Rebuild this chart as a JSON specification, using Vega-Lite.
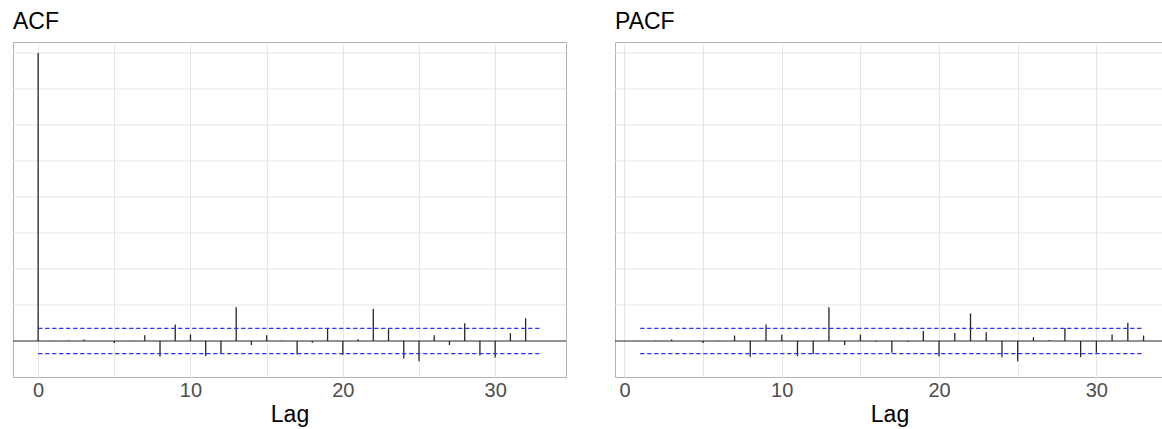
{
  "$schema": "https://vega.github.io/schema/vega-lite/v6.json",
  "padding": {"left": 11, "top": 10, "right": 0, "bottom": 0},
  "spacing": 45,
  "datasets": {
    "acf": [
      {"lag": 0, "value": 1.0},
      {"lag": 1, "value": 0.001},
      {"lag": 2, "value": 0.002},
      {"lag": 3, "value": 0.005},
      {"lag": 4, "value": 0.0},
      {"lag": 5, "value": -0.007},
      {"lag": 6, "value": 0.001},
      {"lag": 7, "value": 0.020},
      {"lag": 8, "value": -0.054},
      {"lag": 9, "value": 0.057},
      {"lag": 10, "value": 0.023},
      {"lag": 11, "value": -0.052},
      {"lag": 12, "value": -0.043},
      {"lag": 13, "value": 0.117},
      {"lag": 14, "value": -0.014},
      {"lag": 15, "value": 0.020},
      {"lag": 16, "value": 0.002},
      {"lag": 17, "value": -0.047},
      {"lag": 18, "value": -0.006},
      {"lag": 19, "value": 0.043},
      {"lag": 20, "value": -0.048},
      {"lag": 21, "value": 0.006},
      {"lag": 22, "value": 0.111},
      {"lag": 23, "value": 0.041},
      {"lag": 24, "value": -0.061},
      {"lag": 25, "value": -0.070},
      {"lag": 26, "value": 0.020},
      {"lag": 27, "value": -0.014},
      {"lag": 28, "value": 0.062},
      {"lag": 29, "value": -0.050},
      {"lag": 30, "value": -0.057},
      {"lag": 31, "value": 0.027},
      {"lag": 32, "value": 0.079},
      {"lag": 33, "value": 0.0}
    ],
    "pacf": [
      {"lag": 1, "value": 0.001},
      {"lag": 2, "value": 0.002},
      {"lag": 3, "value": 0.005},
      {"lag": 4, "value": 0.0},
      {"lag": 5, "value": -0.007},
      {"lag": 6, "value": 0.001},
      {"lag": 7, "value": 0.019},
      {"lag": 8, "value": -0.055},
      {"lag": 9, "value": 0.057},
      {"lag": 10, "value": 0.022},
      {"lag": 11, "value": -0.053},
      {"lag": 12, "value": -0.045},
      {"lag": 13, "value": 0.117},
      {"lag": 14, "value": -0.014},
      {"lag": 15, "value": 0.022},
      {"lag": 16, "value": -0.003},
      {"lag": 17, "value": -0.041},
      {"lag": 18, "value": -0.003},
      {"lag": 19, "value": 0.035},
      {"lag": 20, "value": -0.054},
      {"lag": 21, "value": 0.028},
      {"lag": 22, "value": 0.096},
      {"lag": 23, "value": 0.030},
      {"lag": 24, "value": -0.056},
      {"lag": 25, "value": -0.070},
      {"lag": 26, "value": 0.013},
      {"lag": 27, "value": 0.003},
      {"lag": 28, "value": 0.045},
      {"lag": 29, "value": -0.056},
      {"lag": 30, "value": -0.041},
      {"lag": 31, "value": 0.023},
      {"lag": 32, "value": 0.063},
      {"lag": 33, "value": 0.019}
    ],
    "ci": [
      {"panel": "ACF", "from": 0, "to": 33, "ci": 0.0435},
      {"panel": "ACF", "from": 0, "to": 33, "ci": -0.0435},
      {"panel": "PACF", "from": 1, "to": 33, "ci": 0.0435},
      {"panel": "PACF", "from": 1, "to": 33, "ci": -0.0435}
    ],
    "ybreaks": [
      {"level": 0.125}, {"level": 0.25}, {"level": 0.375}, {"level": 0.5},
      {"level": 0.625}, {"level": 0.75}, {"level": 0.875}, {"level": 1.0}
    ],
    "zero": [{"level": 0}]
  },
  "hconcat": [
    {
      "width": 553,
      "height": 335,
      "title": {"text": "ACF"},
      "layer": [
        {
          "data": {"name": "ybreaks"},
          "mark": {"type": "rule", "color": "#e6e6e6", "strokeWidth": 1},
          "encoding": {"y": {"field": "level", "type": "quantitative",
                  "scale": {"domain": [-0.125, 1.03819], "nice": false, "zero": false},
                  "axis": null}}
        },
        {
          "data": {"name": "zero"},
          "mark": {"type": "rule", "color": "#262626", "strokeWidth": 1.2},
          "encoding": {"y": {"field": "level", "type": "quantitative"}}
        },
        {
          "data": {"name": "acf"},
          "mark": {"type": "rule", "color": "#262626", "strokeWidth": 1.3},
          "encoding": {
            "x": {"field": "lag", "type": "quantitative",
                  "scale": {"domain": [-1.65, 34.65], "nice": false, "zero": false},
                  "axis": {"values": [0, 5, 10, 15, 20, 25, 30], "labelExpr": "datum.value % 10 === 0 ? datum.label : ''", "title": "Lag"}},
            "y": {"field": "value", "type": "quantitative"},
            "y2": {"datum": 0}
          }
        },
        {
          "data": {"name": "ci"},
          "transform": [{"filter": "datum.panel === 'ACF'"}],
          "mark": {"type": "rule", "color": "#2f2fff", "strokeWidth": 1.3, "strokeDash": [4.3, 2.7]},
          "encoding": {
            "x": {"field": "from", "type": "quantitative"},
            "x2": {"field": "to"},
            "y": {"field": "ci", "type": "quantitative"}
          }
        }
      ]
    },
    {
      "width": 549,
      "height": 335,
      "title": {"text": "PACF"},
      "layer": [
        {
          "data": {"name": "ybreaks"},
          "mark": {"type": "rule", "color": "#e6e6e6", "strokeWidth": 1},
          "encoding": {"y": {"field": "level", "type": "quantitative",
                  "scale": {"domain": [-0.125, 1.03819], "nice": false, "zero": false},
                  "axis": null}}
        },
        {
          "data": {"name": "zero"},
          "mark": {"type": "rule", "color": "#262626", "strokeWidth": 1.2},
          "encoding": {"y": {"field": "level", "type": "quantitative"}}
        },
        {
          "data": {"name": "pacf"},
          "mark": {"type": "rule", "color": "#262626", "strokeWidth": 1.3},
          "encoding": {
            "x": {"field": "lag", "type": "quantitative",
                  "scale": {"domain": [-0.6, 34.3], "nice": false, "zero": false},
                  "axis": {"values": [0, 5, 10, 15, 20, 25, 30], "labelExpr": "datum.value % 10 === 0 ? datum.label : ''", "title": "Lag"}},
            "y": {"field": "value", "type": "quantitative"},
            "y2": {"datum": 0}
          }
        },
        {
          "data": {"name": "ci"},
          "transform": [{"filter": "datum.panel === 'PACF'"}],
          "mark": {"type": "rule", "color": "#2f2fff", "strokeWidth": 1.3, "strokeDash": [4.3, 2.7]},
          "encoding": {
            "x": {"field": "from", "type": "quantitative"},
            "x2": {"field": "to"},
            "y": {"field": "ci", "type": "quantitative"}
          }
        }
      ]
    }
  ],
  "config": {
    "font": "Liberation Sans",
    "view": {"stroke": "#b3b3b3", "strokeWidth": 1},
    "title": {"anchor": "start", "fontSize": 23, "fontWeight": "normal", "color": "#000000", "offset": 8, "frame": "group"},
    "axisX": {"ticks": false, "domain": false, "grid": true, "gridColor": "#e6e6e6", "gridWidth": 1,
              "labelFontSize": 20, "labelColor": "#4d4d4d", "labelPadding": 3, "labelFlush": false, "labelOverlap": false,
              "titleFontSize": 23, "titleFontWeight": "normal", "titleColor": "#000000", "titlePadding": 3}
  }
}
